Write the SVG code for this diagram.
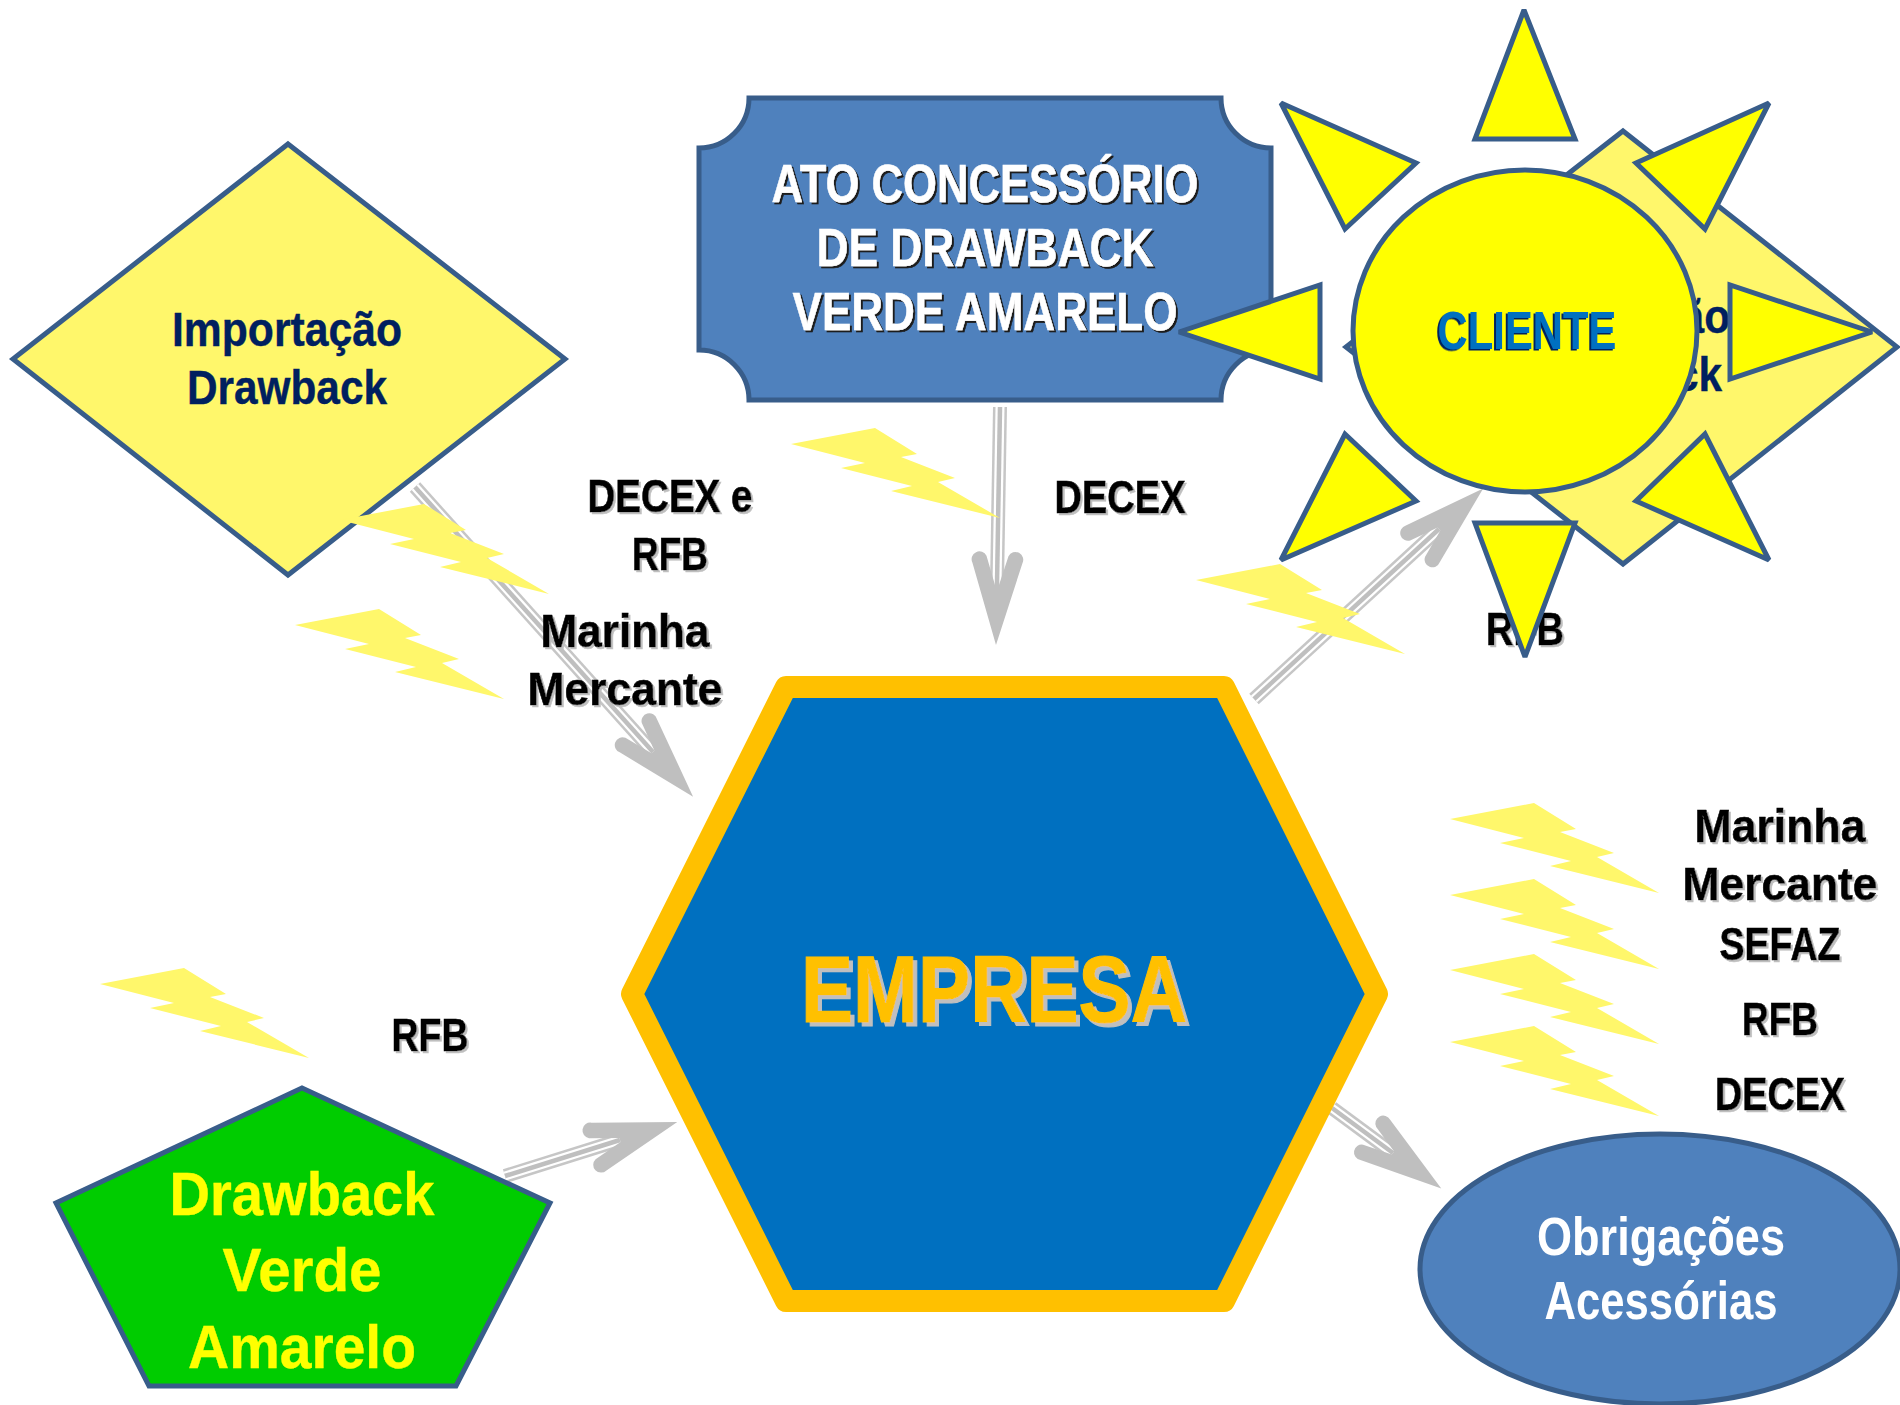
<svg xmlns="http://www.w3.org/2000/svg" width="1900" height="1405" viewBox="0 0 1900 1405">
<style>
text{font-family:"Liberation Sans",Arial,sans-serif;font-weight:700;text-anchor:middle}
.shape{stroke:#385D8A;stroke-width:5;stroke-linejoin:miter}
.ray{stroke-miterlimit:2.5}
.dia{fill:#FFF76B}
.sun{fill:#FFFF00}
.blue{fill:#4F81BD}
.navy{font-size:48px;fill:#00205F;stroke:#00205F;stroke-width:.4}
.lab{font-size:47px;fill:#000;stroke:#000;stroke-width:.6;filter:url(#gs)}
.wline{font-size:54px;fill:#fff;stroke:#fff;stroke-width:.5;filter:url(#ds)}
.wob{font-size:54px;fill:#fff}
.yl{font-size:62px;fill:#FFFF00;stroke:#FFFF00;stroke-width:.4}
.cg{fill:none;stroke:#C6C6C6;stroke-width:14}
.cw{fill:none;stroke:#fff;stroke-width:9}
.cc{fill:none;stroke:#BFBFBF;stroke-width:4.5}
.bolt{fill:#FFF76B}
</style>
<defs>
<filter id="gs" x="-10%" y="-10%" width="120%" height="130%"><feDropShadow dx="2" dy="2" stdDeviation="0" flood-color="#BFBFBF"/></filter>
<filter id="ds" x="-10%" y="-10%" width="120%" height="130%"><feDropShadow dx="2" dy="2" stdDeviation="0" flood-color="#1a1a1a"/></filter>
<filter id="bs" x="-10%" y="-10%" width="120%" height="130%"><feDropShadow dx="-2" dy="1.5" stdDeviation="0" flood-color="#00205F"/></filter>
<filter id="es" x="-10%" y="-10%" width="120%" height="130%"><feDropShadow dx="4" dy="4" stdDeviation="0" flood-color="#BFBFBF"/></filter>
<marker id="head" markerUnits="userSpaceOnUse" viewBox="-100 -40 110 80" markerWidth="110" markerHeight="80" refX="-60" refY="0" orient="auto" overflow="visible">
<path d="M0,0 L-82,-25 A7.5,7.5 0 0 0 -89,-11 L-60,-2 L-60,2 L-89,11 A7.5,7.5 0 0 0 -82,25 Z" fill="#BFBFBF"/>
</marker>
<polygon id="b" points="0,16 84,0 126,26 110,29 164,50 147,54 209,90 100,63 121,58 50,40 74,35" class="bolt"/>
</defs>
<rect width="1900" height="1405" fill="#fff"/>

<g id="node-importacao-1">
<polygon class="shape dia" points="288,144 565,359 288,575 13,359"/>
<text class="navy" x="287" y="346" textLength="230" lengthAdjust="spacingAndGlyphs">Importação</text>
<text class="navy" x="287" y="404" textLength="200" lengthAdjust="spacingAndGlyphs">Drawback</text>
</g>
<g id="node-ato">
<path class="shape blue" d="M749,98 H1221 A50,50 0 0 0 1271,148 V350 A50,50 0 0 0 1221,400 H749 A50,50 0 0 0 699,350 V148 A50,50 0 0 0 749,98 Z"/>
<text class="wline" x="985" y="202" textLength="427" lengthAdjust="spacingAndGlyphs">ATO CONCESSÓRIO</text>
<text class="wline" x="985" y="266" textLength="337" lengthAdjust="spacingAndGlyphs">DE DRAWBACK</text>
<text class="wline" x="985" y="330" textLength="385" lengthAdjust="spacingAndGlyphs">VERDE AMARELO</text>
</g>
<g id="node-importacao-2">
<polygon class="shape dia" points="1623,131 1897,347 1623,564 1346,347"/>
<text class="navy" x="1616" y="333" textLength="228" lengthAdjust="spacingAndGlyphs">Importação</text>
<text class="navy" x="1622" y="391" textLength="200" lengthAdjust="spacingAndGlyphs">Drawback</text>
</g>

<g id="connectors">
<g><line class="cg" x1="415" y1="487" x2="653" y2="752"/><line class="cw" x1="415" y1="487" x2="653" y2="752"/><line class="cc" x1="415" y1="487" x2="653" y2="752" marker-end="url(#head)"/></g>
<g><line class="cg" x1="1000" y1="407" x2="997" y2="585"/><line class="cw" x1="1000" y1="407" x2="997" y2="585"/><line class="cc" x1="1000" y1="407" x2="997" y2="585" marker-end="url(#head)"/></g>
<g><line class="cg" x1="505" y1="1176" x2="620" y2="1140"/><line class="cw" x1="505" y1="1176" x2="620" y2="1140"/><line class="cc" x1="505" y1="1176" x2="620" y2="1140" marker-end="url(#head)"/></g>
<g><line class="cg" x1="1254" y1="699" x2="1439" y2="529"/><line class="cw" x1="1254" y1="699" x2="1439" y2="529"/><line class="cc" x1="1254" y1="699" x2="1439" y2="529" marker-end="url(#head)"/></g>
<g><line class="cg" x1="1332" y1="1108" x2="1393" y2="1153"/><line class="cw" x1="1332" y1="1108" x2="1393" y2="1153"/><line class="cc" x1="1332" y1="1108" x2="1393" y2="1153" marker-end="url(#head)"/></g>
</g>

<g id="node-empresa">
<polygon points="632,994 786,687 1224,687 1377,994 1224,1301 786,1301" fill="#0070C0" stroke="#FFC000" stroke-width="22" stroke-linejoin="round"/>
<text x="994" y="1022" font-size="95" fill="#FFC000" stroke="#FFC000" stroke-width="1.2" filter="url(#es)" textLength="386" lengthAdjust="spacingAndGlyphs">EMPRESA</text>
</g>
<g id="node-drawback-va">
<polygon class="shape" fill="#00CC00" points="302,1088 550,1203 456,1386 149,1386 56,1203"/>
<text class="yl" x="302" y="1215" textLength="265" lengthAdjust="spacingAndGlyphs">Drawback</text>
<text class="yl" x="302" y="1291" textLength="159" lengthAdjust="spacingAndGlyphs">Verde</text>
<text class="yl" x="302" y="1368" textLength="228" lengthAdjust="spacingAndGlyphs">Amarelo</text>
</g>
<g id="node-obrigacoes">
<ellipse class="shape blue" cx="1660" cy="1269" rx="240" ry="135"/>
<text class="wob" x="1661" y="1255" textLength="248" lengthAdjust="spacingAndGlyphs">Obrigações</text>
<text class="wob" x="1661" y="1319" textLength="233" lengthAdjust="spacingAndGlyphs">Acessórias</text>
</g>

<g id="lightning">
<use href="#b" x="340" y="504"/>
<use href="#b" x="295" y="609"/>
<use href="#b" x="791" y="428"/>
<use href="#b" x="1196" y="564"/>
<use href="#b" x="100" y="968"/>
<use href="#b" x="1450" y="803"/>
<use href="#b" x="1450" y="879"/>
<use href="#b" x="1450" y="954"/>
<use href="#b" x="1450" y="1026"/>
</g>

<g id="labels">
<text class="lab" x="670" y="512" textLength="165" lengthAdjust="spacingAndGlyphs">DECEX e</text>
<text class="lab" x="670" y="570" textLength="76" lengthAdjust="spacingAndGlyphs">RFB</text>
<text class="lab" x="625" y="647" textLength="169" lengthAdjust="spacingAndGlyphs">Marinha</text>
<text class="lab" x="625" y="705" textLength="195" lengthAdjust="spacingAndGlyphs">Mercante</text>
<text class="lab" x="1120" y="513" textLength="131" lengthAdjust="spacingAndGlyphs">DECEX</text>
<text class="lab" x="1525" y="645" textLength="78" lengthAdjust="spacingAndGlyphs">RFB</text>
<text class="lab" x="430" y="1051" textLength="77" lengthAdjust="spacingAndGlyphs">RFB</text>
<text class="lab" x="1780" y="842" textLength="171" lengthAdjust="spacingAndGlyphs">Marinha</text>
<text class="lab" x="1780" y="900" textLength="195" lengthAdjust="spacingAndGlyphs">Mercante</text>
<text class="lab" x="1780" y="960" textLength="121" lengthAdjust="spacingAndGlyphs">SEFAZ</text>
<text class="lab" x="1780" y="1035" textLength="76" lengthAdjust="spacingAndGlyphs">RFB</text>
<text class="lab" x="1780" y="1110" textLength="130" lengthAdjust="spacingAndGlyphs">DECEX</text>
</g>

<g id="node-cliente">
<polygon class="shape sun ray" points="1524,10 1575,139 1475,139"/>
<polygon class="shape sun ray" points="1281,103 1416,163 1345,229"/>
<polygon class="shape sun ray" points="1769,103 1636,163 1705,229"/>
<polygon class="shape sun ray" points="1179,332 1320,285 1320,379"/>
<polygon class="shape sun ray" points="1872,332 1730,285 1730,379"/>
<polygon class="shape sun ray" points="1281,560 1416,501 1345,434"/>
<polygon class="shape sun ray" points="1769,560 1636,501 1705,434"/>
<polygon class="shape sun ray" points="1525,657 1475,523 1575,523"/>
<ellipse class="shape sun" cx="1525" cy="331" rx="172" ry="161"/>
<text x="1527" y="349" font-size="54" fill="#0070C0" filter="url(#bs)" textLength="179" lengthAdjust="spacingAndGlyphs">CLIENTE</text>
</g>
</svg>
